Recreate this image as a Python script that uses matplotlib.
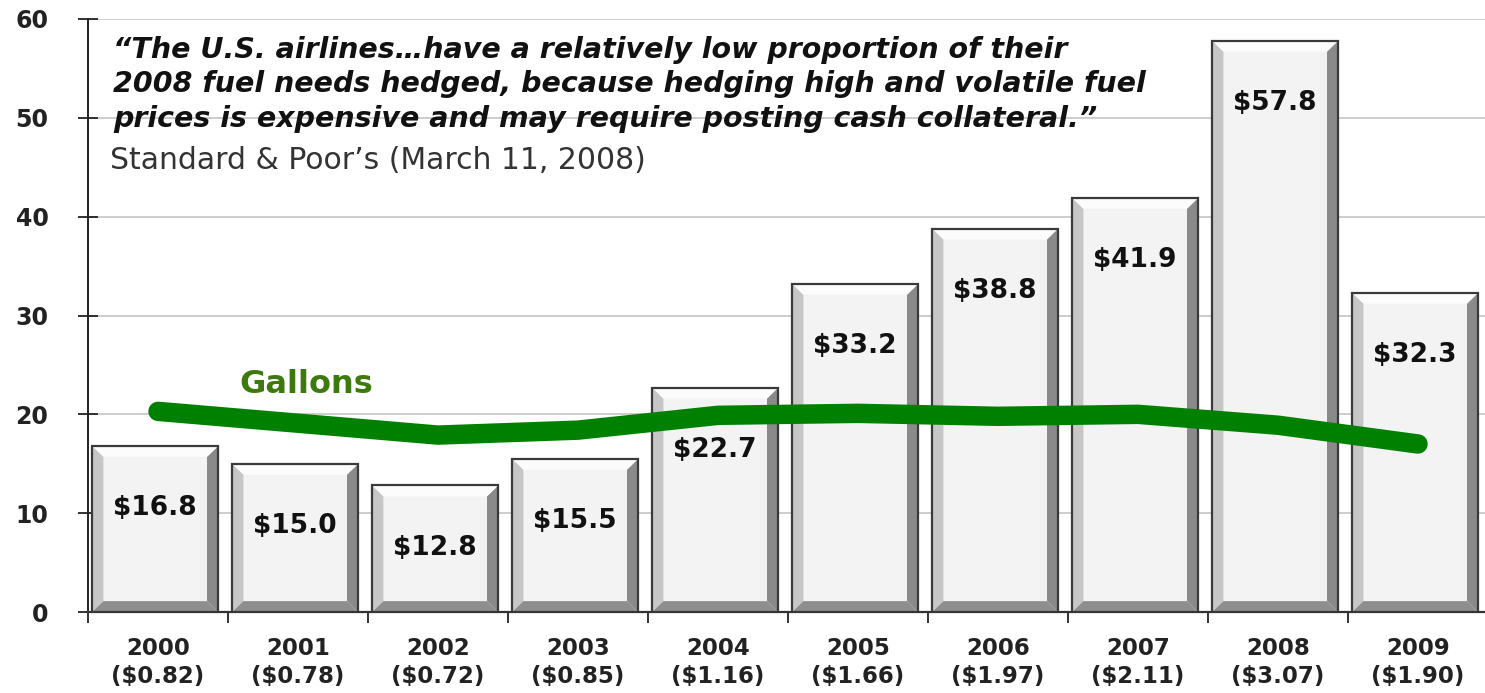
import numpy as np
import matplotlib
matplotlib.use("Agg")
from matplotlib import pyplot as plt
from matplotlib.patches import Polygon

plt.rcParams['font.family'] = ['DejaVu Sans']

# fuel expense ($bn) per year, with average price per gallon under the year
years = ['2000', '2001', '2002', '2003', '2004', '2005', '2006', '2007', '2008', '2009']
prices = ['$0.82', '$0.78', '$0.72', '$0.85', '$1.16', '$1.66', '$1.97', '$2.11', '$3.07', '$1.90']
expense = [16.8, 15.0, 12.8, 15.5, 22.7, 33.2, 38.8, 41.9, 57.8, 32.3]
# gallons consumed (billions)
gallons = [20.3, 19.1, 17.9, 18.4, 19.9, 20.1, 19.8, 20.0, 18.9, 17.0]

quote = ("\u201cThe U.S. airlines\u2026have a relatively low proportion of their\n"
         "2008 fuel needs hedged, because hedging high and volatile fuel\n"
         "prices is expensive and may require posting cash collateral.\u201d")
source = "Standard & Poor\u2019s (March 11, 2008)"

fig = plt.figure(figsize=(14.85, 6.93), dpi=100)
ax = fig.add_axes([88/1485, 81/693, 1400/1485, 593/693])

x = np.arange(len(years))
w = 0.9
dx, dy = 0.08, 1.1

bars = ax.bar(x - 0.02, expense, width=w, color='#f3f3f3', edgecolor='none', zorder=2)

# bevelled edges on each bar
for b in bars:
    l = b.get_x()
    r = l + b.get_width()
    h = b.get_height()
    faces = [
        ([(l, 0), (l + dx, dy), (l + dx, h - dy), (l, h)], '#c6c6c6'),
        ([(r, 0), (r, h), (r - dx, h - dy), (r - dx, dy)], '#8a8a8a'),
        ([(l, 0), (r, 0), (r - dx, dy), (l + dx, dy)], '#8e8e8e'),
        ([(l, h), (r, h), (r - dx, h - dy), (l + dx, h - dy)], '#fcfcfc'),
    ]
    for pts, col in faces:
        ax.add_patch(Polygon(pts, closed=True, facecolor=col, edgecolor='none', zorder=3))
    ax.add_patch(Polygon([(l, 0), (r, 0), (r, h), (l, h)], closed=True, fill=False,
                         edgecolor='#3a3a3a', lw=1.6, zorder=4))

for xi, v in zip(x, expense):
    ax.text(xi - 0.02, v - 6.3, '$%.1f' % v, ha='center', va='center', fontsize=19,
            fontweight='bold', color='#111111', zorder=5)

ax.plot(x, gallons, color='#008000', lw=14, solid_capstyle='round',
        solid_joinstyle='round', zorder=6)
ax.text(1.06, 23.0, 'Gallons', ha='center', va='center', fontsize=23,
        fontweight='bold', color='#3d7a0e', zorder=7)

ax.text(-0.32, 53.4, quote, ha='left', va='center', fontsize=20.5, fontweight='bold',
        fontstyle='italic', color='#111111', linespacing=1.3, zorder=7)
ax.text(-0.343, 45.7, source, ha='left', va='center', fontsize=21.5, color='#333333', zorder=7)

ax.set_xlim(-0.5, len(years) - 0.5)
ax.set_ylim(0, 60)
ax.set_yticks(np.arange(0, 61, 10))
ax.yaxis.grid(True, color='#c4c4c4', lw=1.2, zorder=0)
ax.set_axisbelow(True)

ax.set_xticks(x)
ax.set_xticklabels(['%s\n(%s)' % (y, p) for y, p in zip(years, prices)],
                   fontsize=16.5, fontweight='bold', color='#222222', linespacing=1.3)
ax.set_xticks(np.arange(-0.5, len(years)), minor=True)
ax.tick_params(axis='x', which='major', length=0, pad=18)
ax.tick_params(axis='x', which='minor', length=8, width=1.3, direction='out', color='#222222')
ax.tick_params(axis='y', length=15, width=1.3, direction='inout', pad=21, labelsize=17,
               color='#222222')
for lab in ax.get_yticklabels():
    lab.set_fontweight('bold')
    lab.set_color('#222222')

for s in ['top', 'right']:
    ax.spines[s].set_visible(False)
ax.spines['left'].set_linewidth(1.4)
ax.spines['bottom'].set_linewidth(1.6)
ax.spines['left'].set_color('#222222')
ax.spines['bottom'].set_color('#333333')

fig.savefig('out.png', dpi=100)
